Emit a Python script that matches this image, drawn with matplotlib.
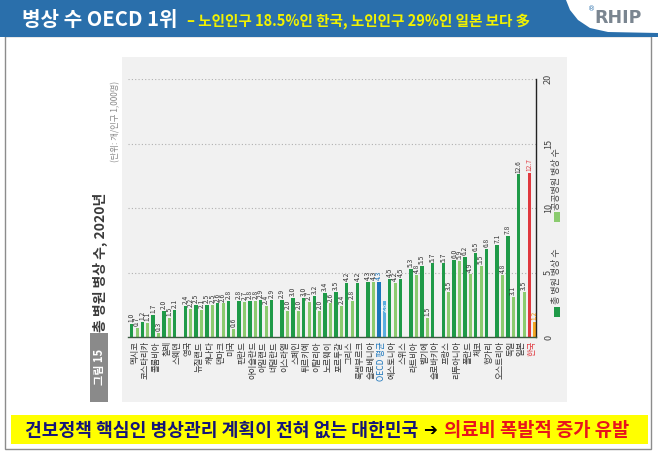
import matplotlib
matplotlib.use('Agg')
import matplotlib.pyplot as plt
from matplotlib.patches import Rectangle, Polygon

plt.rcParams['font.family'] = ['Noto Sans CJK KR', 'DejaVu Sans']

# ---------------- data ----------------
countries = ['멕시코', '코스타리카', '콜롬비아', '칠레', '스웨덴', '영국', '뉴질랜드', '캐나다',
             '덴마크', '미국', '핀란드', '아이슬란드', '아일랜드', '네덜란드', '이스라엘', '스페인',
             '튀르키예', '이탈리아', '노르웨이', '포르투갈', '그리스', '룩셈부르크', '슬로베니아',
             'OECD 평균', '에스토니아', '스위스', '라트비아', '벨기에', '슬로바키아', '프랑스',
             '리투아니아', '폴란드', '체코', '헝가리', '오스트리아', '독일', '일본', '한국']
total_beds = [1.0, 1.2, 1.7, 2.0, 2.1, 2.4, 2.5, 2.5, 2.6, 2.8, 2.8, 2.8, 2.9, 2.9, 2.9, 3.0,
              3.0, 3.2, 3.4, 3.5, 4.2, 4.2, 4.3, 4.3, 4.5, 4.5, 5.3, 5.5, 5.7, 5.7, 6.0, 6.2,
              6.5, 6.8, 7.1, 7.8, 12.6, 12.7]
public_beds = [0.7, 1.1, 0.3, 1.5, None, 2.2, 2.1, 2.5, 2.6, 0.6, 2.7, 2.8, 2.4, None, 2.0, 2.0,
               2.7, 2.0, 2.6, 2.4, 2.8, None, 4.3, 2.8, 4.2, None, 4.8, 1.5, None, 3.5, 5.9, 4.9,
               5.5, None, 4.8, 3.1, 3.5, 1.2]
y_ticks = [0, 5, 10, 15, 20]

W, H = 658, 453
fig = plt.figure(figsize=(W / 100, H / 100), dpi=100)

bg = fig.add_axes([0, 0, 1, 1])
bg.set_xlim(0, W)
bg.set_ylim(H, 0)
bg.axis('off')

# outer frame
bg.add_patch(Rectangle((5, 36), 646, 413, facecolor='white', edgecolor='#8c8c8c', lw=1.0))
# header banner
bg.add_patch(Rectangle((0, 0), W, 37, facecolor='#2a6fab', edgecolor='none'))
white_pts = [(566, 0), (570, 10), (578, 20), (590, 28), (608, 32), (658, 33), (658, 0)]
bg.add_patch(Polygon(white_pts, closed=True, facecolor='white', edgecolor='none'))
bg.text(22, 20, '병상 수 OECD 1위', color='white', fontsize=14.5, fontweight='bold',
        va='center', ha='left')
bg.text(187, 21, '– 노인인구 18.5%인 한국, 노인인구 29%인 일본 보다 多', color='#f2f200',
        fontsize=10.5, fontweight='bold', va='center', ha='left')
bg.text(618, 18, 'RHIP', color='#7a8590', fontsize=12.5, fontweight='bold',
        va='center', ha='center', family=['DejaVu Sans'])
bg.text(592, 9, '®', color='#2a6fab', fontsize=5, va='center', ha='center',
        family=['DejaVu Sans'])

# chart panel
bg.add_patch(Rectangle((122, 57), 445, 345, facecolor='#f1f1f1', edgecolor='none'))
bg.add_patch(Rectangle((90, 333), 18, 69, facecolor='#8a8a8a', edgecolor='none'))
bg.text(99, 367, '그림 15', color='white', fontsize=8, fontweight='bold', rotation=90,
        ha='center', va='center')
bg.text(100, 332, '총 병원 병상 수, 2020년', color='#3a3a3a', fontsize=10, fontweight='bold',
        rotation=90, ha='center', va='bottom')
bg.text(116, 162, '(단위: 개/인구 1,000명)', color='#8a8a8a', fontsize=6, rotation=90,
        ha='center', va='bottom')

# legend
bg.add_patch(Rectangle((554, 307), 6, 10, facecolor='#1f9a48', edgecolor='none'))
bg.text(557, 304, '총 병원 병상 수', color='#444444', fontsize=6.5, rotation=90,
        ha='center', va='bottom')
bg.add_patch(Rectangle((554, 212), 6, 10, facecolor='#8bcb6f', edgecolor='none'))
bg.text(557, 210, '공공병원 병상 수', color='#444444', fontsize=6.5, rotation=90,
        ha='center', va='bottom')

# bottom banner
bg.add_patch(Rectangle((11, 415), 637, 29, facecolor='#ffff00', edgecolor='none'))
bg.text(25, 430, '건보정책 핵심인 병상관리 계획이 전혀 없는 대한민국', color='#141478',
        fontsize=13.1, fontweight='bold', va='center', ha='left')
bg.text(423, 430, '➔', color='black', fontsize=12, fontweight='bold', va='center', ha='left',
        family=['DejaVu Sans'])
bg.text(444, 430, '의료비 폭발적 증가 유발', color='#e8141c', fontsize=13.5, fontweight='bold',
        va='center', ha='left')

# ---------------- bar chart ----------------
left_px, right_px, top_px, base_px = 127.7, 535.7, 79, 337
ax = fig.add_axes([left_px / W, 1 - base_px / H, (right_px - left_px) / W, (base_px - top_px) / H])
ax.patch.set_alpha(0)
n = len(countries)
ax.set_xlim(-0.62, n - 0.67)
ax.set_ylim(0, 20)

for v in y_ticks[1:]:
    ax.axhline(v, color='#b0b0b0', lw=0.8, ls=(0, (1, 2)), zorder=0)

for i, (c, t, p) in enumerate(zip(countries, total_beds, public_beds)):
    if c == '한국':
        dc, lc, tc, pc = '#e0383e', '#f5a623', '#e0383e', '#f08a00'
    elif c.startswith('OECD'):
        dc, lc, tc, pc = '#1b75bb', '#5aaee0', '#1b75bb', '#ffffff'
    else:
        dc, lc, tc, pc = '#1f9a48', '#8bcb6f', '#333333', '#333333'
    ax.bar(i - 0.25, t, width=0.32, color=dc, zorder=2)
    ax.text(i - 0.25, t + 0.15, f'{t:.1f}', rotation=90, ha='center', va='bottom',
            fontsize=4.8, color=tc, zorder=3)
    if p is not None:
        ax.bar(i + 0.25, p, width=0.27, color=lc, zorder=2)
        if c.startswith('OECD'):
            ax.text(i + 0.25, p - 0.15, f'{p:.1f}', rotation=90, ha='center', va='top',
                    fontsize=4.8, color=pc, zorder=3)
        else:
            ax.text(i + 0.25, p + 0.15, f'{p:.1f}', rotation=90, ha='center', va='bottom',
                    fontsize=4.8, color=pc, zorder=3)

ax.set_xticks(range(n))
ax.set_xticklabels(countries, rotation=90, fontsize=6, va='top', ha='center')
for lab, c in zip(ax.get_xticklabels(), countries):
    if c == '한국':
        lab.set_color('#e0383e')
    elif c.startswith('OECD'):
        lab.set_color('#1b75bb')
    else:
        lab.set_color('#333333')
ax.tick_params(axis='x', length=0, pad=3)

ax.yaxis.tick_right()
ax.set_yticks(y_ticks)
ax.set_yticklabels([str(v) for v in y_ticks], rotation=90, fontsize=6.5, color='#444444',
                   va='center', ha='left')
ax.tick_params(axis='y', length=0, pad=6)

for s in ['top', 'left']:
    ax.spines[s].set_visible(False)
ax.spines['right'].set_color('#222222')
ax.spines['right'].set_linewidth(1.0)
ax.spines['bottom'].set_color('#3a5a40')
ax.spines['bottom'].set_linewidth(1.0)

fig.savefig('out.png', dpi=100)
